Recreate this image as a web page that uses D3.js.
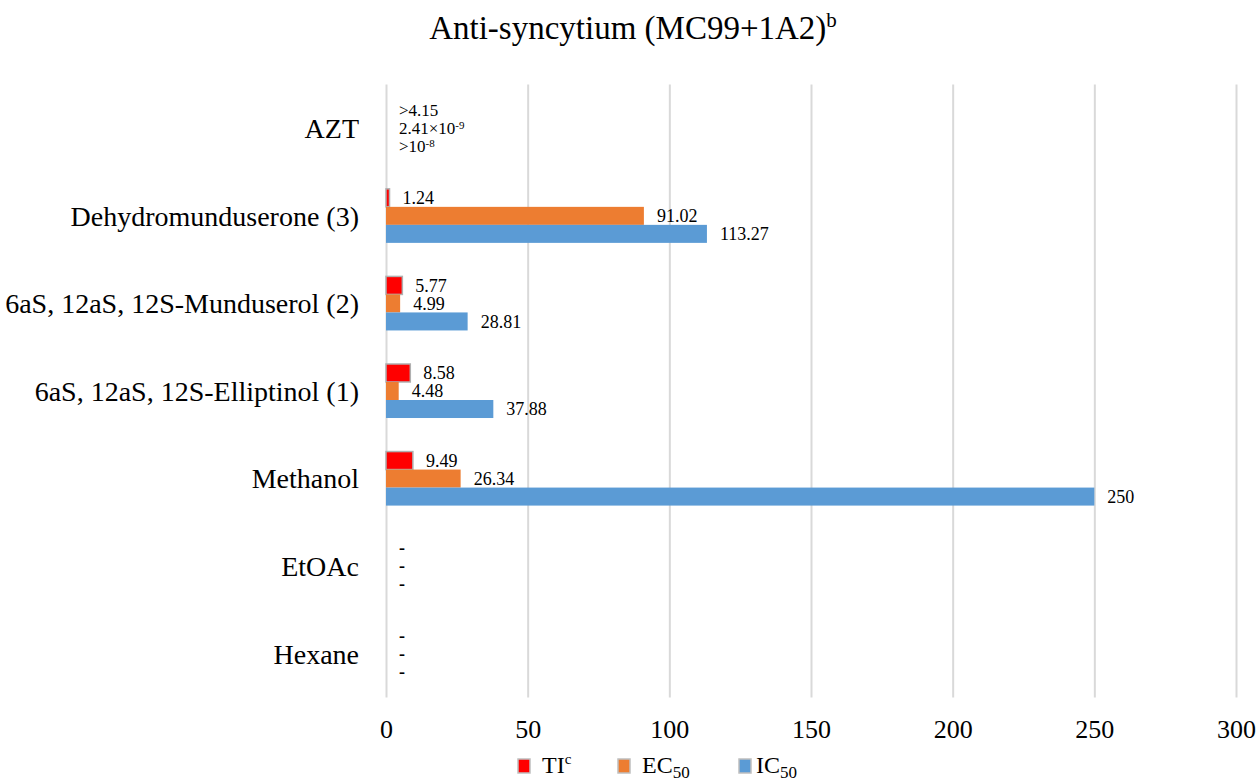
<!DOCTYPE html>
<html>
<head>
<meta charset="utf-8">
<script src="https://cdn.jsdelivr.net/npm/d3@7"></script>
<style>
  html, body { margin: 0; padding: 0; background: #fff; }
  svg { display: block; font-family: "Liberation Serif", "Times New Roman", serif; }
</style>
</head>
<body>
<svg id="chart" width="1258" height="783"></svg>
<script>
// ---- data ----
const categories = ["AZT", "Dehydromunduserone (3)", "6aS, 12aS, 12S-Munduserol (2)", "6aS, 12aS, 12S-Elliptinol (1)", "Methanol", "EtOAc", "Hexane"];
const seriesNames = ["TI", "EC50", "IC50"];
const tiValues   = [0, 1.24, 5.77, 8.58, 9.49, 0, 0];
const ec50Values = [0, 91.02, 4.99, 4.48, 26.34, 0, 0];
const ic50Values = [0, 113.27, 28.81, 37.88, 250, 0, 0];
const tiLabels   = [">4.15", "1.24", "5.77", "8.58", "9.49", "-", "-"];
const ec50Labels = ["2.41×10^-9", "91.02", "4.99", "4.48", "26.34", "-", "-"];
const ic50Labels = [">10^-8", "113.27", "28.81", "37.88", "250", "-", "-"];
const xTicks = [0, 50, 100, 150, 200, 250, 300];
const seriesColors = ["#FF0000", "#ED7D31", "#5B9BD5"];
const titleText = "Anti-syncytium (MC99+1A2)";
const titleSup = "b";

const seriesValues = [tiValues, ec50Values, ic50Values];
const seriesLabels = [tiLabels, ec50Labels, ic50Labels];

const FONT = "'Liberation Serif', 'Times New Roman', serif";
const svg = d3.select("#chart");
const plot = { left: 386, right: 1236, top: 84.5, bottom: 697.5 };

const x = d3.scaleLinear().domain([0, 300]).range([plot.left, plot.right]);
const y0 = d3.scaleBand().domain(categories).range([plot.top, plot.bottom])
  .paddingInner(0.383).paddingOuter(0.383 / 2);
const y1 = d3.scaleBand().domain(seriesNames).range([0, y0.bandwidth()]);

// title
const title = svg.append("text")
  .attr("x", 633).attr("y", 39)
  .attr("text-anchor", "middle")
  .attr("font-family", FONT)
  .attr("font-size", 33)
  .attr("fill", "#000");
title.append("tspan").text(titleText);
title.append("tspan").attr("dy", -12).attr("font-size", 21).text(titleSup);

// gridlines via axis
const grid = svg.append("g")
  .attr("transform", `translate(0,${plot.bottom})`)
  .call(d3.axisBottom(x).tickValues(xTicks).tickSize(-(plot.bottom - plot.top)).tickFormat(""));
grid.select(".domain").remove();
grid.selectAll(".tick line").attr("stroke", "#d9d9d9").attr("stroke-width", 2);

// x tick labels
const xAxis = svg.append("g")
  .attr("transform", `translate(0,${plot.bottom})`)
  .call(d3.axisBottom(x).tickValues(xTicks).tickSize(0).tickPadding(0).tickFormat(d3.format("d")));
xAxis.select(".domain").remove();
xAxis.selectAll("text")
  .attr("font-family", FONT)
  .attr("font-size", 26).attr("fill", "#000")
  .attr("dy", null).attr("y", 40.5);

// y category labels
const yAxis = svg.append("g")
  .attr("transform", `translate(359,0)`)
  .call(d3.axisLeft(y0).tickSize(0).tickPadding(0));
yAxis.select(".domain").remove();
yAxis.selectAll("text")
  .attr("font-family", FONT)
  .attr("font-size", 28).attr("fill", "#000")
  .attr("x", 0).attr("dy", "0.35em");

// bars
const rows = [];
categories.forEach((c, i) => {
  seriesNames.forEach((s, j) => {
    rows.push({ cat: c, series: s, value: seriesValues[j][i], label: seriesLabels[j][i], color: seriesColors[j] });
  });
});

svg.append("g").selectAll("rect")
  .data(rows.filter(d => d.value > 0))
  .join("rect")
  .attr("x", x(0))
  .attr("y", d => y0(d.cat) + y1(d.series))
  .attr("width", d => x(d.value) - x(0))
  .attr("height", y1.bandwidth())
  .attr("fill", d => d.color)
  .attr("stroke", d => d.series === "TI" ? "#b0b0b0" : "none")
  .attr("stroke-width", 1.5);

// value labels
const lbl = svg.append("g").selectAll("text")
  .data(rows)
  .join("text")
  .attr("x", d => x(d.value) + 13)
  .attr("y", d => y0(d.cat) + y1(d.series) + y1.bandwidth() / 2)
  .attr("dy", "0.35em")
  .attr("font-family", FONT)
  .attr("font-size", d => d.label.includes("^") || d.label.startsWith(">") ? 17 : 18)
  .attr("font-weight", d => d.label === "-" ? "bold" : "normal")
  .attr("fill", "#000");
lbl.each(function(d) {
  const parts = d.label.split("^");
  const t = d3.select(this);
  t.append("tspan").text(parts[0]);
  if (parts[1]) t.append("tspan").attr("dy", -5).attr("font-size", 11).text(parts[1]);
});

// legend
const legendItems = [
  { name: "TI", sub: null, sup: "c", color: seriesColors[0], sx: 518, tx: 542 },
  { name: "EC", sub: "50", sup: null, color: seriesColors[1], sx: 618, tx: 642 },
  { name: "IC", sub: "50", sup: null, color: seriesColors[2], sx: 739, tx: 756 }
];
const lg = svg.append("g");
legendItems.forEach(it => {
  lg.append("rect").attr("x", it.sx).attr("y", 759).attr("width", 12).attr("height", 14)
    .attr("fill", it.color).attr("stroke", "#bfbfbf").attr("stroke-width", 1.5);
  const t = lg.append("text").attr("x", it.tx).attr("y", 773).attr("font-family", FONT).attr("font-size", 24).attr("fill", "#000");
  t.append("tspan").text(it.name);
  if (it.sup) t.append("tspan").attr("dy", -9).attr("font-size", 15).text(it.sup);
  if (it.sub) t.append("tspan").attr("dy", 5).attr("font-size", 17).text(it.sub);
});
</script>
</body>
</html>
